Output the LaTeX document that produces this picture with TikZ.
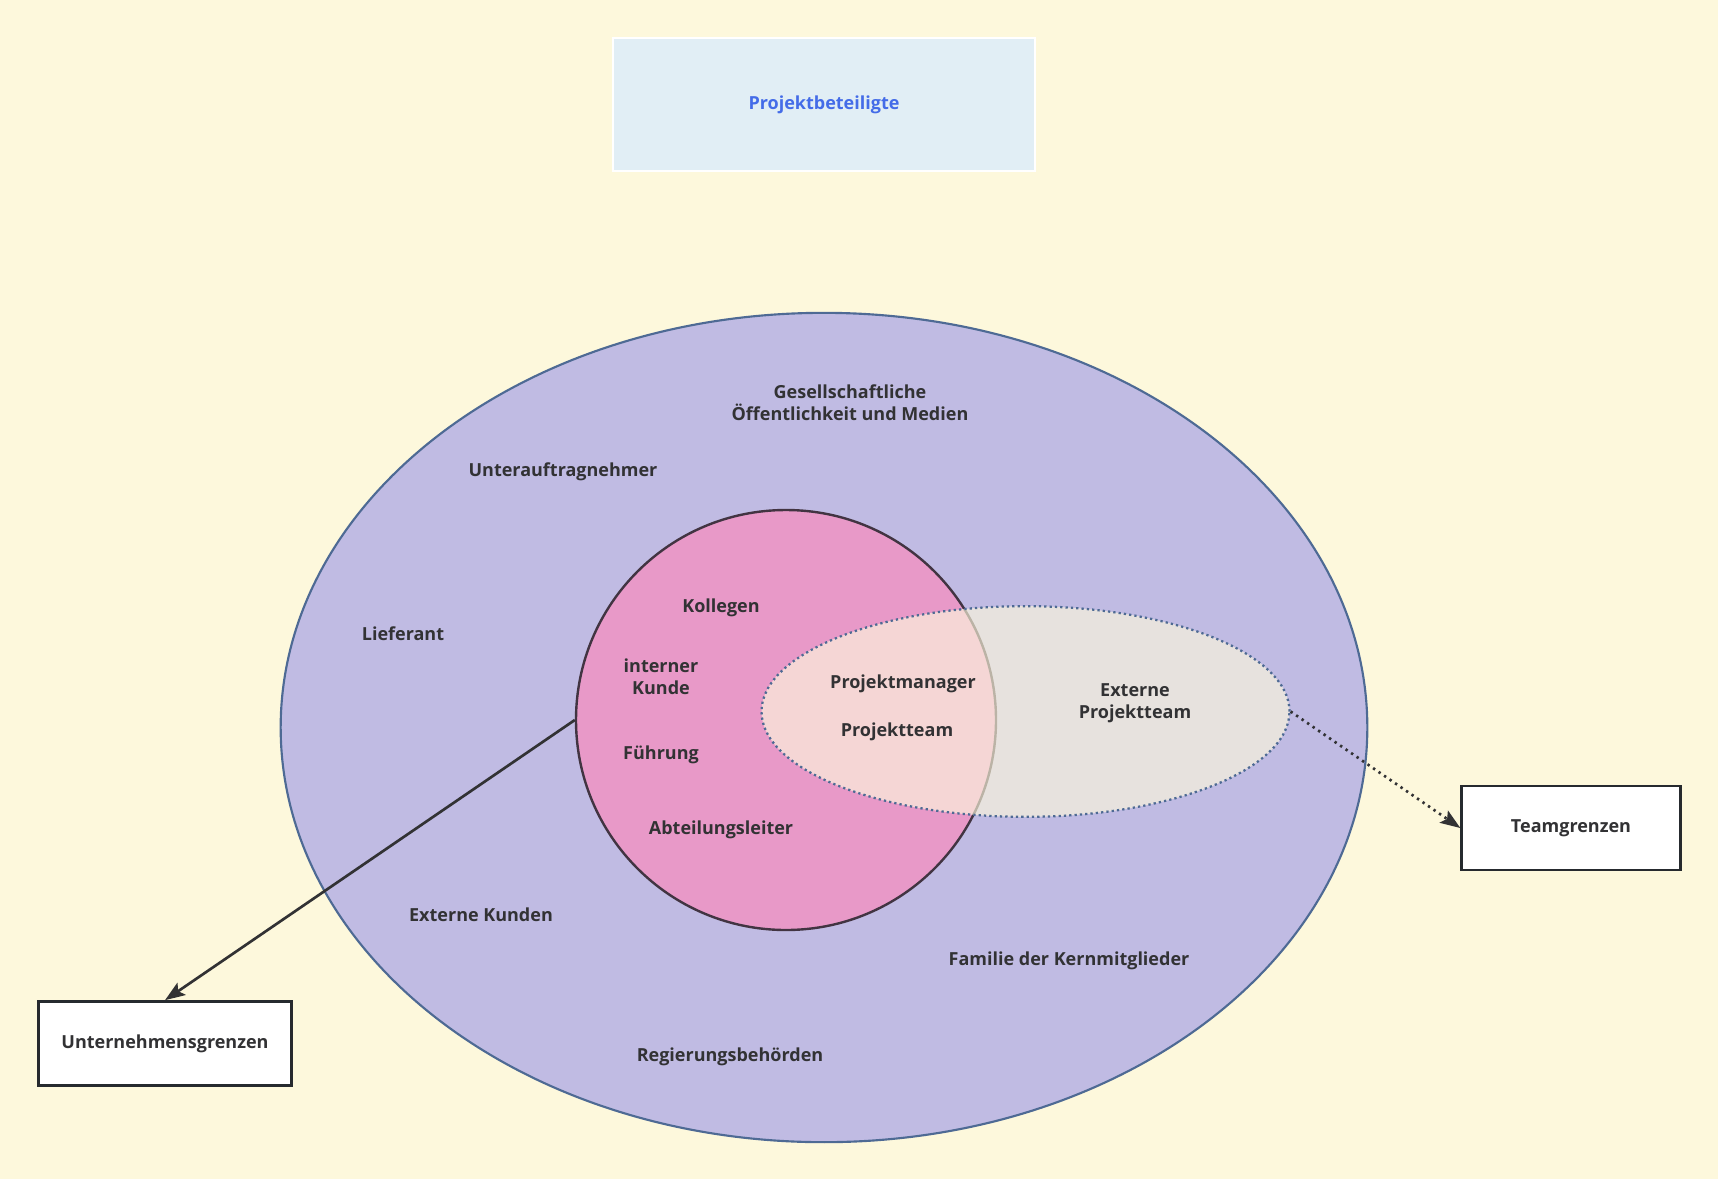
\documentclass[tikz,border=0pt]{standalone}
\usepackage{fontspec}
\setmainfont{Open Sans}
\usetikzlibrary{shapes, arrows.meta, positioning}

\definecolor{bgcream}{RGB}{253,248,220}
\definecolor{outerfill}{RGB}{192,187,227}
\definecolor{outerline}{RGB}{78,106,148}
\definecolor{corefill}{RGB}{232,153,200}
\definecolor{coreline}{RGB}{66,52,66}
\definecolor{titlefill}{RGB}{225,238,245}
\definecolor{titletext}{RGB}{68,108,232}
\definecolor{txtdark}{RGB}{50,50,52}
\definecolor{boxline}{RGB}{38,42,46}

\begin{document}
\begin{tikzpicture}[
    x=0.75pt, y=-0.75pt,
    lbl/.style={font=\fontsize{13.5}{16.5}\selectfont\bfseries, text=txtdark, align=center},
    ring/.style={ellipse, inner sep=0pt},
    limitbox/.style={lbl, draw=boxline, line width=2pt, fill=white, minimum height=63pt},
    arrow/.style={-{Stealth[length=15pt, width=11pt, inset=3pt]}, line width=2pt, draw=txtdark},
    dotarrow/.style={arrow, dash pattern=on 1.8pt off 3.2pt},
]

% Canvas (pixel grid, y pointing down)
\fill[bgcream] (0,0) rectangle (1718,1179);

% Title
\node[lbl, text=titletext, draw=white, line width=2pt, fill=titlefill,
      minimum width=316.5pt, minimum height=99.75pt]
      at (824, 104.5) (title) {Projektbeteiligte};

% Rings: environment, organisation, team
\node[ring, draw=outerline, line width=1.6pt, fill=outerfill,
      minimum width=815pt, minimum height=622pt] at (824, 727.5) (outer) {};
\node[ring, draw=coreline, line width=1.8pt, fill=corefill,
      minimum width=315pt, minimum height=315pt] at (786, 720) (core) {};
\node[ring, draw=outerline, line width=1.7pt, dash pattern=on 1.7pt off 2.3pt,
      fill=bgcream, fill opacity=0.65,
      minimum width=396pt, minimum height=158pt] at (1025.5, 711.5) (team) {};

% Boundary boxes
\node[limitbox, minimum width=190pt] at (165, 1043.5) (ugrenze) {Unternehmensgrenzen};
\node[limitbox, minimum width=164pt] at (1571, 828)   (tgrenze) {Teamgrenzen};

% Outer ring labels
\node[lbl] at (850, 403)  (medien)  {Gesellschaftliche\\Öffentlichkeit und Medien};
\node[lbl] at (563, 472)  (sub)     {Unterauftragnehmer};
\node[lbl] at (403, 634)  (liefer)  {Lieferant};
\node[lbl] at (481, 915)  (extkd)   {Externe Kunden};
\node[lbl] at (1069, 961) (familie) {Familie der Kernmitglieder};
\node[lbl] at (730, 1057) (regier)  {Regierungsbehörden};

% Core ring labels
\node[lbl] at (721, 608)  (koll)    {Kollegen};
\node[lbl] at (661, 677)  (intkd)   {interner\\Kunde};
\node[lbl] at (661, 755)  (fuehr)   {Führung};
\node[lbl] at (721, 830)  (abt)     {Abteilungsleiter};

% Team labels
\node[lbl] at (903, 683.5) (pm)     {Projektmanager};
\node[lbl] at (897, 732)   (pteam)  {Projektteam};
\node[lbl] at (1135, 703)  (extpt)  {Externe\\Projektteam};

% Connectors
\draw[arrow]    (core.west) -- (ugrenze.north);
\draw[dotarrow] (team.east) -- (tgrenze.west);

\end{tikzpicture}
\end{document}
